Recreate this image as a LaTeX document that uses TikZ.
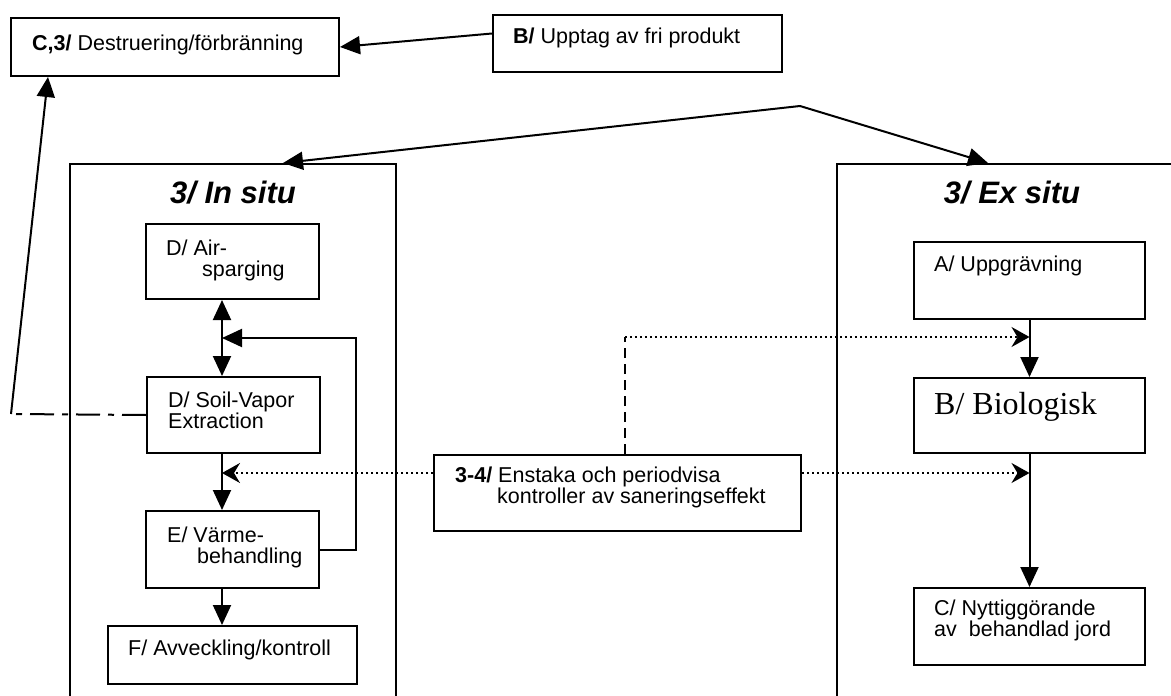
\documentclass[tikz,border=0pt]{standalone}
\usepackage{fontspec}
\setmainfont{Liberation Sans}
\newfontfamily\serifbio{Liberation Serif}
\usepackage{tikz}
\usetikzlibrary{arrows.meta,positioning}
\tikzstyle{box} = [rectangle, draw, line width=2pt, anchor=north west, inner sep=0pt]
\tikzstyle{frame} = [rectangle, draw, line width=2pt, anchor=north west, inner sep=0pt]
\tikzstyle{txt} = [inner sep=0pt, align=left, font=\fontsize{21.5}{21}\selectfont]
\tikzstyle{headline} = [inner sep=0pt, font=\fontsize{31}{31}\selectfont\bfseries\itshape]
\tikzstyle{arrow} = [line width=2pt, -{Triangle[length=20pt,width=18pt]}]
\tikzstyle{dotarrow} = [line width=2pt, dash pattern=on 2pt off 3pt, -{Stealth[length=18pt,width=20pt,inset=6pt]}]
\tikzstyle{dashline} = [line width=2pt, dash pattern=on 10pt off 6pt]
\tikzstyle{dashdot} = [line width=2pt, dash pattern=on 24pt off 8pt on 6pt off 8pt]

\begin{document}
\begin{tikzpicture}[x=1pt, y=-1pt]
    \clip (0,0) rectangle (1171,696);

    % Top row
    \node [box, minimum width=328pt, minimum height=58pt] (destr) at (10,17) {};
    \node [txt, below right=18pt and 22pt of destr.north west] (destrtxt) {\textbf{C,3/} Destruering/förbränning};
    \node [box, minimum width=289pt, minimum height=57pt] (upptag) at (492,14) {};
    \node [txt, below right=14pt and 21pt of upptag.north west] (upptagtxt) {\textbf{B/} Upptag av fri produkt};
    \coordinate (apex) at (800,106);

    % Frames
    \node [frame, minimum width=326pt, minimum height=600pt] (insitu) at (69,163) {};
    \node [frame, minimum width=350pt, minimum height=600pt] (exsitu) at (836,163) {};
    \node [headline, below=18pt of insitu.north] (intitle) {3/ In situ};
    \node [headline, below=18pt of exsitu.north] (extitle) {3/ Ex situ};

    % In situ steps
    \node [box, minimum width=173pt, minimum height=75pt] (air) at (145,223) {};
    \node [txt, below right=17pt and 21pt of air.north west] (airtxt) {D/ Air-\\\hspace*{36pt}sparging};
    \node [box, minimum width=173pt, minimum height=76pt] (sve) at (146,376) {};
    \node [txt, below right=16pt and 22pt of sve.north west] (svetxt) {D/ Soil-Vapor\\Extraction};
    \node [box, minimum width=173pt, minimum height=77pt] (varme) at (145,510) {};
    \node [txt, below right=17pt and 22pt of varme.north west] (varmetxt) {E/ Värme-\\\hspace*{30pt}behandling};
    \node [box, minimum width=249pt, minimum height=58pt] (avveck) at (107,625) {};
    \node [txt, below right=15pt and 21pt of avveck.north west] (avvecktxt) {F/ Avveckling/kontroll};

    % Checks
    \node [box, minimum width=367pt, minimum height=76pt] (ctrl) at (433,454) {};
    \node [txt, below right=13pt and 22pt of ctrl.north west] (ctrltxt) {\textbf{3-4/} Enstaka och periodvisa\\\hspace*{42pt}kontroller av saneringseffekt};

    % Ex situ steps
    \node [box, minimum width=231pt, minimum height=77pt] (dig) at (913,241) {};
    \node [txt, below right=15pt and 21pt of dig.north west] (digtxt) {A/ Uppgrävning};
    \node [box, minimum width=231pt, minimum height=75pt] (bio) at (913,377) {};
    \node [inner sep=0pt, font=\serifbio\fontsize{32}{32}\selectfont, below right=15pt and 21pt of bio.north west] (biotxt) {B/ Biologisk};
    \node [box, minimum width=231pt, minimum height=77pt] (reuse) at (913,587) {};
    \node [txt, below right=13pt and 21pt of reuse.north west] (reusetxt) {C/ Nyttiggörande\\av\ \ behandlad jord};

    % Helper points
    \coordinate (trunk) at (222,300);
    \coordinate (loop) at (356,338);
    \coordinate (check) at (222,473);
    \coordinate (knee) at (625,337);
    \coordinate (bend) at (11,414);

    % Transitions
    \draw [arrow] ([yshift=10pt]upptag.west) -- (destr.east);
    \draw [arrow] (apex) -- ([xshift=214pt]insitu.north west);
    \draw [arrow] (apex) -- ([xshift=152pt]exsitu.north west);
    \draw [arrow, {Triangle[length=20pt,width=18pt]}-{Triangle[length=20pt,width=18pt]}] (air.south -| trunk) -- (sve.north -| trunk);
    \draw [arrow] (varme.east) -| (loop) -- (trunk |- loop);
    \draw [arrow] (sve.south -| trunk) -- (varme.north -| trunk);
    \draw [arrow] (varme.south -| trunk) -- (avveck.north -| trunk);
    \draw [arrow] (dig.south) -- (bio.north);
    \draw [arrow] (bio.south) -- (reuse.north);
    \draw [dashdot] (sve.west) -- (bend);
    \draw [arrow] (bend) -- ([xshift=38pt]destr.south west);

    % Control links
    \draw [dotarrow] (ctrl.west |- check) -- (check);
    \draw [dotarrow] (ctrl.east |- check) -- (bio.south |- check);
    \draw [dashline] (ctrl.north -| knee) -- (knee);
    \draw [dotarrow] (knee) -- (bio.north |- knee);
\end{tikzpicture}
\end{document}
